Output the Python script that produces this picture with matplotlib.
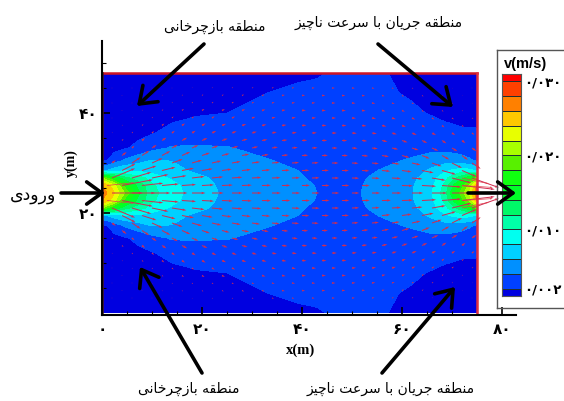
import numpy as np
from matplotlib import pyplot as plt
from matplotlib.lines import Line2D
from matplotlib.patches import FancyArrowPatch
from matplotlib.colors import ListedColormap, BoundaryNorm

### Velocity field, in units of 0.001 m/s
xf = [0, 1, 2.5, 4.5, 7, 10, 14, 19, 25, 33, 39, 43, 50, 53, 56, 62, 66, 68.5, 70.5, 72, 73.5, 74.5, 75]
yf = [0, 4, 8, 12, 15, 17.5, 19.5, 21, 22.5, 24, 25.5, 27, 28.5, 30.5, 33, 36, 40, 44, 48]
vf = [
    [.3, .3, .3, .3, .4, .5, .7, .9, 1.2, 1.6, 1.8, 1.9, 2.3, 2.2, 2.1, 1.6, 1.1, .9, .8, .7, .7, .7, .7],
    [.5, .5, .5, .5, .6, .7, .9, 1.1, 1.6, 2.0, 2.2, 2.25, 2.3, 2.25, 2.2, 1.85, 1.4, 1.2, 1.1, 1, 1, 1, 1],
    [.7, .7, .7, .8, .9, 1.1, 1.5, 1.8, 2.0, 2.3, 2.45, 2.5, 2.4, 2.35, 2.3, 2.2, 1.9, 1.7, 1.6, 1.5, 1.5, 1.5, 1.5],
    [.9, .9, 1, 1.2, 1.5, 1.9, 2.5, 3, 3.1, 2.9, 2.8, 2.7, 2.6, 2.65, 2.7, 2.7, 2.6, 2.4, 2.3, 2.2, 2.2, 2.2, 2.1],
    [1.2, 1.3, 1.5, 1.8, 2.4, 3.4, 4.2, 4.2, 4.1, 3.5, 3.2, 3.0, 2.8, 2.95, 3.1, 3.4, 3.5, 3.4, 3.2, 3, 2.8, 2.7, 2.6],
    [1.7, 2, 3, 4.2, 5.2, 6.1, 5.95, 5, 4.6, 4.1, 3.6, 3.3, 3.0, 3.3, 3.6, 4.2, 4.9, 5.2, 5.1, 4.8, 4.3, 3.9, 3.6],
    [5.5, 6, 7, 7.8, 7.7, 7.2, 6.5, 5.7, 5, 4.3, 4.02, 3.5, 3.3, 3.75, 4.1, 5, 6.4, 7.6, 8.4, 8.8, 8.6, 8, 7],
    [20, 18, 15.5, 12.7, 11, 9.2, 7.7, 6.4, 5.4, 4.6, 4.15, 3.8, 3.5, 4.0, 4.4, 5.5, 7.2, 9.3, 11.5, 13.5, 15.5, 17.5, 19],
    [26, 25, 22.5, 17.5, 13.8, 10.3, 8.6, 6.8, 5.5, 4.8, 4.3, 3.95, 3.6, 4.15, 4.6, 5.8, 7.7, 10.4, 14.5, 17.5, 20.5, 24, 26],
    [27, 26, 24, 20, 14.7, 10.6, 8.8, 7, 5.6, 4.9, 4.3, 4.0, 3.7, 4.2, 4.7, 5.9, 7.9, 11, 16, 19, 22.4, 26, 28],
    [26, 25, 22.5, 17.5, 13.8, 10.3, 8.6, 6.8, 5.5, 4.8, 4.3, 3.95, 3.6, 4.15, 4.6, 5.8, 7.7, 10.4, 14.5, 17.5, 20.5, 24, 26],
    [20, 18, 15.5, 12.7, 11, 9.2, 7.7, 6.4, 5.4, 4.6, 4.15, 3.8, 3.5, 4.0, 4.4, 5.5, 7.2, 9.3, 11.5, 13.5, 15.5, 17.5, 19],
    [5.5, 6, 7, 7.8, 7.7, 7.2, 6.5, 5.7, 5, 4.3, 4.02, 3.5, 3.3, 3.75, 4.1, 5, 6.4, 7.6, 8.4, 8.8, 8.6, 8, 7],
    [1.7, 2, 3, 4.2, 5.2, 6.1, 5.95, 5, 4.6, 4.1, 3.6, 3.3, 3.0, 3.3, 3.6, 4.2, 4.9, 5.2, 5.1, 4.8, 4.3, 3.9, 3.6],
    [1.2, 1.3, 1.5, 1.8, 2.4, 3.4, 4.2, 4.2, 4.1, 3.5, 3.2, 3.0, 2.8, 2.95, 3.1, 3.4, 3.5, 3.4, 3.2, 3, 2.8, 2.7, 2.6],
    [.9, .9, 1, 1.2, 1.5, 1.9, 2.5, 3, 3.1, 2.9, 2.8, 2.7, 2.6, 2.65, 2.7, 2.7, 2.6, 2.4, 2.3, 2.2, 2.2, 2.2, 2.1],
    [.7, .7, .7, .8, .9, 1.1, 1.5, 1.8, 2.0, 2.3, 2.45, 2.5, 2.4, 2.35, 2.3, 2.2, 1.9, 1.7, 1.6, 1.5, 1.5, 1.5, 1.5],
    [.5, .5, .5, .5, .6, .7, .9, 1.1, 1.6, 2.0, 2.2, 2.25, 2.3, 2.25, 2.2, 1.85, 1.4, 1.2, 1.1, 1, 1, 1, 1],
    [.3, .3, .3, .3, .4, .5, .7, .9, 1.2, 1.6, 1.8, 1.9, 2.3, 2.2, 2.1, 1.6, 1.1, .9, .8, .7, .7, .7, .7],
]

### Contour bands, bottom to top of the legend
levels = [0, 2, 4, 6, 8, 10, 12, 14, 16, 18, 20, 22, 24, 26, 28, 30, 31]
band_colors = ['#0000E0', '#0040FF', '#0090FF', '#00D0FF', '#00FFF0', '#00FFA8', '#00F868', '#00FF28',
               '#10FF10', '#58F000', '#A8FF00', '#E8FF00', '#FFC800', '#FF8000', '#FF4000', '#FF0000']
legend_ticks = [2, 10, 20, 30]
legend_labels = ['۰/۰۰۲', '۰/۰۱۰', '۰/۰۲۰', '۰/۰۳۰']

### Velocity vectors, same units
xq = [2, 6, 10, 14, 18, 22, 26, 30, 34, 38, 42, 46, 50, 54, 58, 62, 66, 70, 74]
yq = [3, 6, 9, 12, 15, 18, 21, 24, 27, 30, 33, 36, 39, 42, 45]
uq = [
    [0, .1, .1, .2, .3, .5, .6, .8, 1, 1.2, 1.4, 1.5, 1.5, 1.3, 1, .7, .4, .3, .1],
    [.1, .1, .3, .4, .6, .8, 1, 1.2, 1.4, 1.6, 1.7, 1.8, 1.8, 1.7, 1.4, 1.1, .8, .5, .3],
    [.1, .3, .5, .8, 1.1, 1.4, 1.6, 1.8, 1.9, 2, 2.1, 2.1, 2.1, 2.1, 2, 1.7, 1.3, 1, .7],
    [.3, .6, 1.1, 1.5, 1.9, 2.2, 2.4, 2.5, 2.5, 2.5, 2.5, 2.5, 2.5, 2.5, 2.5, 2.4, 2.1, 1.7, 1.3],
    [.6, 1.3, 2.4, 3, 3.3, 3.3, 3.3, 3.2, 3.1, 3, 2.9, 2.9, 2.9, 3, 3.2, 3.4, 3.3, 2.8, 2.2],
    [2, 4.5, 5.5, 5.5, 5.2, 4.8, 4.5, 4.2, 3.9, 3.7, 3.5, 3.4, 3.4, 3.6, 4, 4.4, 5, 5.2, 4.5],
    [12, 10, 8.5, 7.5, 6.5, 5.8, 5.3, 4.8, 4.4, 4.1, 3.9, 3.7, 3.7, 4, 4.6, 5.4, 7, 10, 14],
    [16, 12, 9.5, 8, 7, 6, 5.5, 5, 4.5, 4.2, 4, 3.8, 3.8, 4.2, 4.8, 5.8, 7.8, 14, 20],
    [12, 10, 8.5, 7.5, 6.5, 5.8, 5.3, 4.8, 4.4, 4.1, 3.9, 3.7, 3.7, 4, 4.6, 5.4, 7, 10, 14],
    [2, 4.5, 5.5, 5.5, 5.2, 4.8, 4.5, 4.2, 3.9, 3.7, 3.5, 3.4, 3.4, 3.6, 4, 4.4, 5, 5.2, 4.5],
    [.6, 1.3, 2.4, 3, 3.3, 3.3, 3.3, 3.2, 3.1, 3, 2.9, 2.9, 2.9, 3, 3.2, 3.4, 3.3, 2.8, 2.2],
    [.3, .6, 1.1, 1.5, 1.9, 2.2, 2.4, 2.5, 2.5, 2.5, 2.5, 2.5, 2.5, 2.5, 2.5, 2.4, 2.1, 1.7, 1.3],
    [.1, .3, .5, .8, 1.1, 1.4, 1.6, 1.8, 1.9, 2, 2.1, 2.1, 2.1, 2.1, 2, 1.7, 1.3, 1, .7],
    [.1, .1, .3, .4, .6, .8, 1, 1.2, 1.4, 1.6, 1.7, 1.8, 1.8, 1.7, 1.4, 1.1, .8, .5, .3],
    [0, .1, .1, .2, .3, .5, .6, .8, 1, 1.2, 1.4, 1.5, 1.5, 1.3, 1, .7, .4, .3, .1],
]
vq = [
    [0, -.1, -.1, -.2, -.3, -.35, -.4, -.3, -.25, -.15, -.05, 0, .05, .15, .25, .3, .25, .15, .1],
    [-.1, -.2, -.3, -.5, -.6, -.6, -.6, -.5, -.35, -.2, -.1, 0, .1, .25, .45, .55, .5, .4, .2],
    [-.2, -.4, -.6, -.8, -.9, -.9, -.8, -.6, -.45, -.3, -.1, 0, .1, .3, .6, .8, .8, .7, .5],
    [-.4, -.7, -1, -1.2, -1.2, -1.1, -.9, -.7, -.5, -.3, -.15, 0, .15, .4, .7, 1, 1.1, 1.1, 1],
    [-.6, -1.2, -1.6, -1.7, -1.5, -1.2, -.9, -.7, -.5, -.3, -.15, 0, .15, .4, .7, 1.1, 1.5, 1.7, 1.6],
    [-1.5, -3, -2.5, -2, -1.5, -1.1, -.8, -.6, -.4, -.25, -.15, 0, .15, .35, .6, 1, 1.7, 2.6, 3],
    [-5, -3, -1.8, -1.2, -.8, -.6, -.4, -.3, -.2, -.15, -.1, 0, .1, .2, .3, .5, 1.2, 2.5, 5],
    [0, 0, 0, 0, 0, 0, 0, 0, 0, 0, 0, 0, 0, 0, 0, 0, 0, 0, 0],
    [5, 3, 1.8, 1.2, .8, .6, .4, .3, .2, .15, .1, 0, -.1, -.2, -.3, -.5, -1.2, -2.5, -5],
    [1.5, 3, 2.5, 2, 1.5, 1.1, .8, .6, .4, .25, .15, 0, -.15, -.35, -.6, -1, -1.7, -2.6, -3],
    [.6, 1.2, 1.6, 1.7, 1.5, 1.2, .9, .7, .5, .3, .15, 0, -.15, -.4, -.7, -1.1, -1.5, -1.7, -1.6],
    [.4, .7, 1, 1.2, 1.2, 1.1, .9, .7, .5, .3, .15, 0, -.15, -.4, -.7, -1, -1.1, -1.1, -1],
    [.2, .4, .6, .8, .9, .9, .8, .6, .45, .3, .1, 0, -.1, -.3, -.6, -.8, -.8, -.7, -.5],
    [.1, .2, .3, .5, .6, .6, .6, .5, .35, .2, .1, 0, -.1, -.25, -.45, -.55, -.5, -.4, -.2],
    [0, .1, .1, .2, .3, .35, .4, .3, .25, .15, .05, 0, -.05, -.15, -.25, -.3, -.25, -.15, -.1],
]

### Second set of vectors, in between the first
xr = [4, 8, 12, 16, 20, 24, 28, 32, 36, 40, 44, 48, 52, 56, 60, 64, 68, 72]
yr = [4.5, 7.5, 10.5, 13.5, 16.5, 19.5, 22.5, 25.5, 28.5, 31.5, 34.5, 37.5, 40.5, 43.5]
ur = [
    [.1, .2, .3, .5, .7, .9, 1.1, 1.3, 1.5, 1.6, 1.7, 1.7, 1.6, 1.4, 1.1, .8, .5, .3],
    [.2, .4, .7, 1, 1.3, 1.5, 1.7, 1.8, 1.9, 2, 2, 2, 1.9, 1.8, 1.5, 1.1, .8, .5],
    [.4, .8, 1.2, 1.6, 1.9, 2.1, 2.2, 2.3, 2.3, 2.3, 2.3, 2.3, 2.3, 2.3, 2, 1.7, 1.3, 1],
    [.8, 1.6, 2.3, 2.7, 2.8, 2.9, 2.9, 2.8, 2.8, 2.7, 2.7, 2.7, 2.7, 2.8, 2.9, 2.7, 2.3, 1.8],
    [2.4, 3.8, 4.3, 4.3, 4.1, 3.9, 3.7, 3.5, 3.3, 3.2, 3.1, 3.1, 3.3, 3.6, 3.9, 4, 3.8, 3.1],
    [7, 7.5, 7, 6.2, 5.5, 5, 4.6, 4.3, 4, 3.8, 3.6, 3.6, 3.8, 4.3, 5, 6, 7.2, 7.5],
    [16, 11, 8.7, 7.3, 6.2, 5.6, 5.1, 4.6, 4.3, 4.1, 3.9, 3.8, 4, 4.6, 5.6, 7.3, 10, 17],
    [16, 11, 8.7, 7.3, 6.2, 5.6, 5.1, 4.6, 4.3, 4.1, 3.9, 3.8, 4, 4.6, 5.6, 7.3, 10, 17],
    [7, 7.5, 7, 6.2, 5.5, 5, 4.6, 4.3, 4, 3.8, 3.6, 3.6, 3.8, 4.3, 5, 6, 7.2, 7.5],
    [2.4, 3.8, 4.3, 4.3, 4.1, 3.9, 3.7, 3.5, 3.3, 3.2, 3.1, 3.1, 3.3, 3.6, 3.9, 4, 3.8, 3.1],
    [.8, 1.6, 2.3, 2.7, 2.8, 2.9, 2.9, 2.8, 2.8, 2.7, 2.7, 2.7, 2.7, 2.8, 2.9, 2.7, 2.3, 1.8],
    [.4, .8, 1.2, 1.6, 1.9, 2.1, 2.2, 2.3, 2.3, 2.3, 2.3, 2.3, 2.3, 2.3, 2, 1.7, 1.3, 1],
    [.2, .4, .7, 1, 1.3, 1.5, 1.7, 1.8, 1.9, 2, 2, 2, 1.9, 1.8, 1.5, 1.1, .8, .5],
    [.1, .2, .3, .5, .7, .9, 1.1, 1.3, 1.5, 1.6, 1.7, 1.7, 1.6, 1.4, 1.1, .8, .5, .3],
]
vr = [
    [-.1, -.2, -.4, -.5, -.6, -.5, -.5, -.4, -.3, -.2, -.05, .05, .2, .35, .5, .5, .4, .2],
    [-.2, -.4, -.6, -.8, -.8, -.7, -.6, -.5, -.3, -.15, -.05, .05, .2, .4, .6, .7, .6, .4],
    [-.4, -.7, -1, -1.1, -1.1, -.9, -.7, -.5, -.3, -.15, -.05, .05, .25, .5, .8, 1, 1, .8],
    [-.8, -1.3, -1.5, -1.5, -1.3, -1, -.8, -.5, -.3, -.15, -.05, .05, .3, .6, 1, 1.3, 1.5, 1.4],
    [-1.8, -2.5, -2.3, -1.9, -1.4, -1, -.7, -.5, -.3, -.15, -.05, .05, .3, .6, 1.1, 1.6, 2.1, 2.3],
    [-3.5, -2.4, -1.7, -1.2, -.9, -.7, -.5, -.35, -.2, -.1, -.05, .05, .2, .4, .7, 1.2, 2, 3.2],
    [-3, -1.2, -.8, -.5, -.35, -.25, -.2, -.1, -.05, -.05, 0, 0, .05, .1, .2, .4, .8, 2],
    [3, 1.2, .8, .5, .35, .25, .2, .1, .05, .05, 0, 0, -.05, -.1, -.2, -.4, -.8, -2],
    [3.5, 2.4, 1.7, 1.2, .9, .7, .5, .35, .2, .1, .05, -.05, -.2, -.4, -.7, -1.2, -2, -3.2],
    [1.8, 2.5, 2.3, 1.9, 1.4, 1, .7, .5, .3, .15, .05, -.05, -.3, -.6, -1.1, -1.6, -2.1, -2.3],
    [.8, 1.3, 1.5, 1.5, 1.3, 1, .8, .5, .3, .15, .05, -.05, -.3, -.6, -1, -1.3, -1.5, -1.4],
    [.4, .7, 1, 1.1, 1.1, .9, .7, .5, .3, .15, .05, -.05, -.25, -.5, -.8, -1, -1, -.8],
    [.2, .4, .6, .8, .8, .7, .6, .5, .3, .15, .05, -.05, -.2, -.4, -.6, -.7, -.6, -.4],
    [.1, .2, .4, .5, .6, .5, .5, .4, .3, .2, .05, -.05, -.2, -.35, -.5, -.5, -.4, -.2],
]

### Extra long vectors at the inlet and the outlet
xj = [1, 1, 72, 72, 72, 72]
yj = [25.5, 22.5, 27, 25.5, 22.5, 21]
uj = [14, 14, 14, 16, 16, 14]
vj = [1.5, -1.5, -3, -1, 1, 3]

### Labels
x_ticks = [0, 20, 40, 60, 80]
x_tick_labels = ['۰', '۲۰', '۴۰', '۶۰', '۸۰']
y_ticks = [20, 40]
y_tick_labels = ['۲۰', '۴۰']
label_recirc = 'منطقه بازچرخانی'
label_slow = 'منطقه جریان با سرعت ناچیز'
label_inlet = 'ورودی'

### matplotlib does not join Arabic letters: isolated, final, initial, medial
forms = {
    'ا': 'ﺍﺎ', 'د': 'ﺩﺪ', 'ر': 'ﺭﺮ', 'ز': 'ﺯﺰ', 'و': 'ﻭﻮ',
    'ب': 'ﺏﺐﺑﺒ', 'ت': 'ﺕﺖﺗﺘ', 'ج': 'ﺝﺞﺟﺠ', 'چ': 'ﭺﭻﭼﭽ', 'خ': 'ﺥﺦﺧﺨ',
    'س': 'ﺱﺲﺳﺴ', 'ط': 'ﻁﻂﻃﻄ', 'ع': 'ﻉﻊﻋﻌ', 'ق': 'ﻕﻖﻗﻘ', 'م': 'ﻡﻢﻣﻤ',
    'ن': 'ﻥﻦﻧﻨ', 'ه': 'ﻩﻪﻫﻬ', 'ی': 'ﯼﯽﯾﯿ',
}

def shape(text):
    out = []
    for i, c in enumerate(text):
        if c not in forms:
            out.append(c)
            continue
        prev_joins = i > 0 and len(forms.get(text[i - 1], '')) == 4
        next_joins = i + 1 < len(text) and text[i + 1] in forms
        if len(forms[c]) == 2:
            out.append(forms[c][1 if prev_joins else 0])
        elif prev_joins and next_joins:
            out.append(forms[c][3])
        elif prev_joins:
            out.append(forms[c][1])
        elif next_joins:
            out.append(forms[c][2])
        else:
            out.append(forms[c][0])
    return ''.join(out[::-1])

def fp(px, py):
    ### reference pixel to figure fraction
    return px / 564, 1 - py / 401

fig = plt.figure(figsize=(5.64, 4.01), dpi=100)

### Main axes: x=0 at px 102, y=-0.4 at py 315, 5 px per metre
left, bottom = fp(102, 315)
ax = fig.add_axes([left, bottom, 414 / 564, 274 / 401])
ax.set_xlim(0, 82.8)
ax.set_ylim(-0.4, 54.4)
ax.contourf(xf, yf, vf, levels=levels, colors=band_colors, zorder=1)

arrow_style = dict(angles='xy', scale_units='xy', scale=2.6, units='dots', width=1.0, headwidth=2.5,
                   headlength=4, headaxislength=3.5, minlength=0.6, color='#D02C50', zorder=2)
ax.quiver(xq, yq, uq, vq, **arrow_style)
ax.quiver(xr, yr, ur, vr, **arrow_style)
ax.quiver(xj, yj, uj, vj, clip_on=False, **{**arrow_style, 'width': 0.7, 'color': '#E04050'})

ax.plot([0, 75], [48, 48], color='#CC1525', lw=1.8, zorder=3)
ax.plot([75, 75], [-0.4, 48], color='#E03040', lw=1.8, zorder=3)
ax.plot([0, 0], [-0.4, 48], color='#501818', lw=1.8, zorder=3)

for side in ['top', 'right']:
    ax.spines[side].set_visible(False)
for side in ['left', 'bottom']:
    ax.spines[side].set_linewidth(1.5)
    ax.spines[side].set_zorder(4)

ax.set_xticks(x_ticks, x_tick_labels)
ax.set_yticks(y_ticks, y_tick_labels)
ax.set_xticks([5, 10, 15, 25, 30, 35, 45, 50, 55, 65, 70, 75], minor=True)
ax.set_yticks([5, 10, 15, 25, 30, 35, 45, 50], minor=True)
ax.tick_params(which='major', direction='in', length=6, width=1.2, labelsize=11, zorder=4)
ax.tick_params(which='minor', direction='in', length=3, width=0.8, zorder=4)
ax.tick_params(axis='x', which='major', pad=5)
ax.tick_params(axis='y', which='major', pad=3)
for tick in ax.get_xticklabels() + ax.get_yticklabels():
    tick.set_fontweight('bold')

fig.text(*fp(301, 350), 'x(m)', family='Liberation Serif', weight='bold', size=10.5, ha='center', va='center')
fig.text(*fp(71, 163), 'y(m)', family='Liberation Serif', weight='bold', size=10, rotation=90, ha='center', va='center')

### Legend box runs off the right edge of the image
for xs, ys in [([497, 564], [50, 50]), ([497, 497], [50, 308]), ([497, 564], [308, 308])]:
    x0, y0 = fp(xs[0], ys[0])
    x1, y1 = fp(xs[1], ys[1])
    fig.add_artist(Line2D([x0, x1], [y0, y1], color='#555555', lw=1))

cb_left, cb_bottom = fp(502, 296)
cax = fig.add_axes([cb_left, cb_bottom, 19 / 564, 222 / 401])
cax.pcolormesh([0, 1], [1] + levels[1:], np.array(levels[1:]).reshape(-1, 1) - 1,
               cmap=ListedColormap(band_colors), norm=BoundaryNorm(levels, 16),
               edgecolors='#203030', linewidth=0.6)
cax.set_xlim(0, 1)
cax.set_ylim(1, 31)
cax.set_xticks([])
cax.yaxis.tick_right()
cax.set_yticks(legend_ticks, legend_labels)
cax.tick_params(length=0, labelsize=9.5, pad=2)
for tick in cax.get_yticklabels():
    tick.set_fontweight('bold')
for spine in cax.spines.values():
    spine.set_color('#555555')
fig.text(*fp(526, 64), 'v(m/s)', family='Liberation Sans', weight='bold', size=10.5, ha='center', va='center')

### Annotations
arrows = [((204, 44), (137, 106)), ((378, 44), (453, 107)), ((202, 373), (140, 267)),
          ((382, 373), (455, 287)), ((61, 193), (105, 193)), ((468, 193), (516, 193))]
for start, end in arrows:
    fig.add_artist(FancyArrowPatch(
        fp(*start), fp(*end), transform=fig.transFigure, arrowstyle='->,head_length=0.55,head_width=0.4',
        mutation_scale=20, lw=2.6, color='black', shrinkA=0, shrinkB=0, zorder=10))

fig.text(*fp(215, 27), shape(label_recirc), size=10, ha='center', va='center')
fig.text(*fp(379, 23), shape(label_slow), size=10, ha='center', va='center')
fig.text(*fp(189, 389), shape(label_recirc), size=10, ha='center', va='center')
fig.text(*fp(391, 389), shape(label_slow), size=10, ha='center', va='center')
fig.text(*fp(33, 195), shape(label_inlet), size=12.5, ha='center', va='center')

fig.savefig('out.png', dpi=100)
